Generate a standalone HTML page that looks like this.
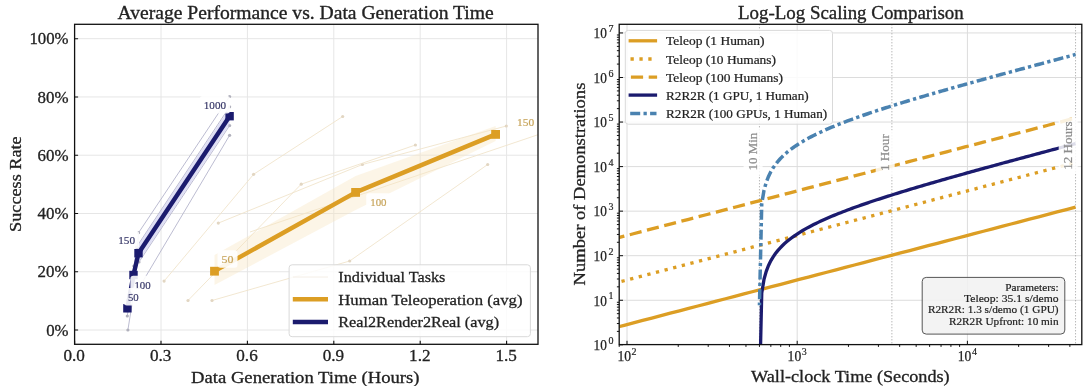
<!DOCTYPE html>
<html><head><meta charset="utf-8"><style>
html,body{margin:0;padding:0;background:#fff;width:1086px;height:386px;overflow:hidden}
svg{display:block;will-change:transform}
text{font-family:"Liberation Serif",serif}
</style></head><body><svg width="1086" height="386" viewBox="0 0 1086 386" font-family="Liberation Serif, serif"><defs><clipPath id="cl"><rect x="74.6" y="24.3" width="463.4" height="320.0"/></clipPath><clipPath id="cr"><rect x="619.2" y="24.3" width="462.5999999999999" height="320.3"/></clipPath></defs><path d="M161.00 24.3V344.3 M247.40 24.3V344.3 M333.80 24.3V344.3 M420.20 24.3V344.3 M506.60 24.3V344.3 M74.6 330.00H538.0 M74.6 271.74H538.0 M74.6 213.48H538.0 M74.6 155.22H538.0 M74.6 96.96H538.0 M74.6 38.70H538.0" stroke="#e6e6e6" stroke-width="1" fill="none"/><g clip-path="url(#cl)"><path d="M164.1 281.1 L253.6 174.3 L342.7 116.5" stroke="#F1E4CC" stroke-width="0.9" fill="none"/><circle cx="164.1" cy="281.1" r="1.6" fill="#E2D6C2"/><circle cx="253.6" cy="174.3" r="1.6" fill="#E2D6C2"/><circle cx="342.7" cy="116.5" r="1.6" fill="#E2D6C2"/><path d="M218.3 223.1 L362.4 164.5 L506.3 126.0" stroke="#F1E4CC" stroke-width="0.9" fill="none"/><circle cx="218.3" cy="223.1" r="1.6" fill="#E2D6C2"/><circle cx="362.4" cy="164.5" r="1.6" fill="#E2D6C2"/><circle cx="506.3" cy="126.0" r="1.6" fill="#E2D6C2"/><path d="M188.0 300.5 L301.2 184.2 L415.4 145.0" stroke="#F1E4CC" stroke-width="0.9" fill="none"/><circle cx="188.0" cy="300.5" r="1.6" fill="#E2D6C2"/><circle cx="301.2" cy="184.2" r="1.6" fill="#E2D6C2"/><circle cx="415.4" cy="145.0" r="1.6" fill="#E2D6C2"/><path d="M212.0 300.5 L349.7 261.0 L487.7 164.5" stroke="#F1E4CC" stroke-width="0.9" fill="none"/><circle cx="212.0" cy="300.5" r="1.6" fill="#E2D6C2"/><circle cx="349.7" cy="261.0" r="1.6" fill="#E2D6C2"/><circle cx="487.7" cy="164.5" r="1.6" fill="#E2D6C2"/><path d="M250.0 232.0 L700.0 80.0" stroke="#F1E4CC" stroke-width="0.9" fill="none"/><path d="M127.9 330.0 L133.3 296.0 L138.6 232.7 L229.6 96.5" stroke="#B4B4CC" stroke-width="0.9" fill="none"/><circle cx="127.9" cy="330.0" r="1.6" fill="#B0B0BC"/><circle cx="133.3" cy="296.0" r="1.6" fill="#B0B0BC"/><circle cx="138.6" cy="232.7" r="1.6" fill="#B0B0BC"/><circle cx="229.6" cy="96.5" r="1.6" fill="#B0B0BC"/><path d="M127.5 300.0 L133.5 271.0 L136.5 247.0 L229.6 106.8" stroke="#B4B4CC" stroke-width="0.9" fill="none"/><circle cx="127.5" cy="300.0" r="1.6" fill="#B0B0BC"/><circle cx="133.5" cy="271.0" r="1.6" fill="#B0B0BC"/><circle cx="136.5" cy="247.0" r="1.6" fill="#B0B0BC"/><circle cx="229.6" cy="106.8" r="1.6" fill="#B0B0BC"/><path d="M127.0 310.0 L133.0 281.0 L138.3 253.0 L229.6 116.0" stroke="#B4B4CC" stroke-width="0.9" fill="none"/><circle cx="127.0" cy="310.0" r="1.6" fill="#B0B0BC"/><circle cx="133.0" cy="281.0" r="1.6" fill="#B0B0BC"/><circle cx="138.3" cy="253.0" r="1.6" fill="#B0B0BC"/><circle cx="229.6" cy="116.0" r="1.6" fill="#B0B0BC"/><path d="M127.3 316.0 L133.8 266.0 L139.0 262.0 L229.6 125.6" stroke="#B4B4CC" stroke-width="0.9" fill="none"/><circle cx="127.3" cy="316.0" r="1.6" fill="#B0B0BC"/><circle cx="133.8" cy="266.0" r="1.6" fill="#B0B0BC"/><circle cx="139.0" cy="262.0" r="1.6" fill="#B0B0BC"/><circle cx="229.6" cy="125.6" r="1.6" fill="#B0B0BC"/><path d="M127.6 311.0 L133.2 285.0 L139.5 287.0 L229.6 135.3" stroke="#B4B4CC" stroke-width="0.9" fill="none"/><circle cx="127.6" cy="311.0" r="1.6" fill="#B0B0BC"/><circle cx="133.2" cy="285.0" r="1.6" fill="#B0B0BC"/><circle cx="139.5" cy="287.0" r="1.6" fill="#B0B0BC"/><circle cx="229.6" cy="135.3" r="1.6" fill="#B0B0BC"/></g><path d="M214.5 255 L355.6 176 L495.6 126 L495.6 141 L355.6 210 L214.5 285Z" fill="#F8E4C0" fill-opacity="0.38"/><path d="M127.4 301 L133.5 268.5 L138.5 244.5 L229.6 108 L229.6 124.5 L138.5 262 L133.5 281.5 L127.4 315Z" fill="#C9C9EE" fill-opacity="0.6"/><path d="M214.5 271.2 L355.6 192.4 L495.6 134.4" stroke="#DC9E24" stroke-width="4.4" fill="none" stroke-linejoin="round"/><rect x="210.1" y="266.8" width="8.8" height="8.8" fill="#DC9E24"/><rect x="351.20000000000005" y="188.0" width="8.8" height="8.8" fill="#DC9E24"/><rect x="491.20000000000005" y="130.0" width="8.8" height="8.8" fill="#DC9E24"/><path d="M127.4 308.3 L133.5 275.0 L138.5 253.2 L229.6 116.2" stroke="#1B1B6E" stroke-width="4.4" fill="none" stroke-linejoin="round"/><rect x="123.2" y="304.1" width="8.4" height="8.4" fill="#1B1B6E"/><rect x="129.3" y="270.8" width="8.4" height="8.4" fill="#1B1B6E"/><rect x="134.3" y="249.0" width="8.4" height="8.4" fill="#1B1B6E"/><rect x="225.4" y="112.0" width="8.4" height="8.4" fill="#1B1B6E"/><rect x="199.8" y="96.0" width="30.2" height="17.5" rx="3" fill="#fff" fill-opacity="0.9"/><text x="203.80" y="109.00" font-size="10.5" fill="#3A3A6A" stroke="#3A3A6A" stroke-width="0.19" textLength="22.20" lengthAdjust="spacingAndGlyphs" >1000</text><rect x="114.2" y="231.0" width="24.9" height="17.5" rx="3" fill="#fff" fill-opacity="0.9"/><text x="118.20" y="244.00" font-size="10.5" fill="#3A3A6A" stroke="#3A3A6A" stroke-width="0.19" textLength="16.90" lengthAdjust="spacingAndGlyphs" >150</text><rect x="130.4" y="275.8" width="24.3" height="17.5" rx="3" fill="#fff" fill-opacity="0.9"/><text x="134.40" y="288.80" font-size="10.5" fill="#3A3A6A" stroke="#3A3A6A" stroke-width="0.19" textLength="16.30" lengthAdjust="spacingAndGlyphs" >100</text><rect x="123.9" y="288.0" width="18.8" height="17.5" rx="3" fill="#fff" fill-opacity="0.9"/><text x="127.90" y="301.00" font-size="10.5" fill="#3A3A6A" stroke="#3A3A6A" stroke-width="0.19" textLength="10.80" lengthAdjust="spacingAndGlyphs" >50</text><rect x="217.5" y="250.2" width="20.0" height="17.5" rx="3" fill="#fff" fill-opacity="0.9"/><text x="221.50" y="263.20" font-size="10.5" fill="#C8A65E" stroke="#C8A65E" stroke-width="0.19" textLength="12.00" lengthAdjust="spacingAndGlyphs" >50</text><rect x="366.2" y="193.2" width="24.4" height="17.5" rx="3" fill="#fff" fill-opacity="0.9"/><text x="370.20" y="206.20" font-size="10.5" fill="#C8A65E" stroke="#C8A65E" stroke-width="0.19" textLength="16.40" lengthAdjust="spacingAndGlyphs" >100</text><rect x="513.0" y="113.3" width="25.2" height="17.5" rx="3" fill="#fff" fill-opacity="0.9"/><text x="517.00" y="126.30" font-size="10.5" fill="#C8A65E" stroke="#C8A65E" stroke-width="0.19" textLength="17.20" lengthAdjust="spacingAndGlyphs" >150</text><rect x="289.1" y="264.8" width="241.3" height="71.9" rx="3" fill="#fff" fill-opacity="0.85" stroke="#d9d9d9" stroke-width="1"/><path d="M292.8 299.2H328" stroke="#DC9E24" stroke-width="4.5"/><path d="M292.8 321.9H328" stroke="#1B1B6E" stroke-width="4.5"/><path d="M292.8 277H328" stroke="#F4EEE6" stroke-width="1"/><text x="338.30" y="282.30" font-size="15.5" fill="#222" stroke="#222" stroke-width="0.28" textLength="107.11" lengthAdjust="spacingAndGlyphs" >Individual Tasks</text><text x="338.30" y="304.70" font-size="15.5" fill="#222" stroke="#222" stroke-width="0.28" textLength="184.18" lengthAdjust="spacingAndGlyphs" >Human Teleoperation (avg)</text><text x="338.30" y="326.80" font-size="15.5" fill="#222" stroke="#222" stroke-width="0.28" textLength="160.76" lengthAdjust="spacingAndGlyphs" >Real2Render2Real (avg)</text><rect x="74.6" y="24.3" width="463.4" height="320.0" fill="none" stroke="#111" stroke-width="1.3"/><path d="M74.60 344.3v-3.5 M161.00 344.3v-3.5 M247.40 344.3v-3.5 M333.80 344.3v-3.5 M420.20 344.3v-3.5 M506.60 344.3v-3.5 M74.6 330.00h3.5 M74.6 271.74h3.5 M74.6 213.48h3.5 M74.6 155.22h3.5 M74.6 96.96h3.5 M74.6 38.70h3.5" stroke="#111" stroke-width="1.1"/><text x="63.50" y="361.30" font-size="16" fill="#222" stroke="#222" stroke-width="0.29" textLength="21.40" lengthAdjust="spacingAndGlyphs" >0.0</text><text x="149.90" y="361.30" font-size="16" fill="#222" stroke="#222" stroke-width="0.29" textLength="21.40" lengthAdjust="spacingAndGlyphs" >0.3</text><text x="236.30" y="361.30" font-size="16" fill="#222" stroke="#222" stroke-width="0.29" textLength="21.40" lengthAdjust="spacingAndGlyphs" >0.6</text><text x="322.70" y="361.30" font-size="16" fill="#222" stroke="#222" stroke-width="0.29" textLength="21.40" lengthAdjust="spacingAndGlyphs" >0.9</text><text x="409.10" y="361.30" font-size="16" fill="#222" stroke="#222" stroke-width="0.29" textLength="21.40" lengthAdjust="spacingAndGlyphs" >1.2</text><text x="495.50" y="361.30" font-size="16" fill="#222" stroke="#222" stroke-width="0.29" textLength="21.40" lengthAdjust="spacingAndGlyphs" >1.5</text><text x="46.20" y="335.60" font-size="16" fill="#222" stroke="#222" stroke-width="0.29" textLength="22.37" lengthAdjust="spacingAndGlyphs" >0%</text><text x="37.60" y="277.34" font-size="16" fill="#222" stroke="#222" stroke-width="0.29" textLength="30.97" lengthAdjust="spacingAndGlyphs" >20%</text><text x="37.60" y="219.08" font-size="16" fill="#222" stroke="#222" stroke-width="0.29" textLength="30.97" lengthAdjust="spacingAndGlyphs" >40%</text><text x="37.60" y="160.82" font-size="16" fill="#222" stroke="#222" stroke-width="0.29" textLength="30.97" lengthAdjust="spacingAndGlyphs" >60%</text><text x="37.60" y="102.56" font-size="16" fill="#222" stroke="#222" stroke-width="0.29" textLength="30.97" lengthAdjust="spacingAndGlyphs" >80%</text><text x="29.40" y="44.30" font-size="16" fill="#222" stroke="#222" stroke-width="0.29" textLength="39.17" lengthAdjust="spacingAndGlyphs" >100%</text><text x="117.50" y="18.80" font-size="18.5" fill="#222" stroke="#222" stroke-width="0.33" textLength="376.24" lengthAdjust="spacingAndGlyphs" >Average Performance vs. Data Generation Time</text><text x="191.00" y="382.70" font-size="16" fill="#222" stroke="#222" stroke-width="0.29" textLength="228.55" lengthAdjust="spacingAndGlyphs" >Data Generation Time (Hours)</text><text transform="translate(20.90,231.90) rotate(-90)" x="0" y="0" font-size="16" fill="#222" stroke="#222" stroke-width="0.29" textLength="95.57" lengthAdjust="spacingAndGlyphs" >Success Rate</text><path d="M627.00 24.3V344.6 M797.20 24.3V344.6 M967.40 24.3V344.6 M619.2 300.25H1081.8 M619.2 255.70H1081.8 M619.2 211.15H1081.8 M619.2 166.60H1081.8 M619.2 122.05H1081.8 M619.2 77.50H1081.8 M619.2 32.95H1081.8" stroke="#dcdcdc" stroke-width="1" fill="none"/><path d="M759.44 24.3V344.6" stroke="#9a9a9a" stroke-width="1" stroke-dasharray="1 2" fill="none"/><path d="M891.88 24.3V344.6" stroke="#9a9a9a" stroke-width="1" stroke-dasharray="1 2" fill="none"/><path d="M1075.56 24.3V344.6" stroke="#9a9a9a" stroke-width="1" stroke-dasharray="1 2" fill="none"/><g clip-path="url(#cr)"><path d="M614.99 327.69 L624.20 325.28 L633.41 322.87 L642.62 320.45 L651.83 318.04 L661.04 315.63 L670.26 313.22 L679.47 310.81 L688.68 308.40 L697.89 305.99 L707.10 303.58 L716.31 301.17 L725.52 298.75 L734.74 296.34 L743.95 293.93 L753.16 291.52 L762.37 289.11 L771.58 286.70 L780.79 284.29 L790.00 281.88 L799.22 279.47 L808.43 277.05 L817.64 274.64 L826.85 272.23 L836.06 269.82 L845.27 267.41 L854.48 265.00 L863.70 262.59 L872.91 260.18 L882.12 257.77 L891.33 255.35 L900.54 252.94 L909.75 250.53 L918.96 248.12 L928.18 245.71 L937.39 243.30 L946.60 240.89 L955.81 238.48 L965.02 236.07 L974.23 233.65 L983.44 231.24 L992.66 228.83 L1001.87 226.42 L1011.08 224.01 L1020.29 221.60 L1029.50 219.19 L1038.71 216.78 L1047.92 214.37 L1057.14 211.95 L1066.35 209.54 L1075.56 207.13" stroke="#DC9E24" stroke-width="3.3" fill="none"/><path d="M614.99 283.14 L624.20 280.73 L633.41 278.32 L642.62 275.90 L651.83 273.49 L661.04 271.08 L670.26 268.67 L679.47 266.26 L688.68 263.85 L697.89 261.44 L707.10 259.03 L716.31 256.62 L725.52 254.20 L734.74 251.79 L743.95 249.38 L753.16 246.97 L762.37 244.56 L771.58 242.15 L780.79 239.74 L790.00 237.33 L799.22 234.92 L808.43 232.50 L817.64 230.09 L826.85 227.68 L836.06 225.27 L845.27 222.86 L854.48 220.45 L863.70 218.04 L872.91 215.63 L882.12 213.22 L891.33 210.80 L900.54 208.39 L909.75 205.98 L918.96 203.57 L928.18 201.16 L937.39 198.75 L946.60 196.34 L955.81 193.93 L965.02 191.52 L974.23 189.10 L983.44 186.69 L992.66 184.28 L1001.87 181.87 L1011.08 179.46 L1020.29 177.05 L1029.50 174.64 L1038.71 172.23 L1047.92 169.82 L1057.14 167.40 L1066.35 164.99 L1075.56 162.58" stroke="#DC9E24" stroke-width="3.3" fill="none" stroke-dasharray="3.3 5.6" stroke-dashoffset="2.18"/><path d="M614.99 238.59 L624.20 236.18 L633.41 233.77 L642.62 231.35 L651.83 228.94 L661.04 226.53 L670.26 224.12 L679.47 221.71 L688.68 219.30 L697.89 216.89 L707.10 214.48 L716.31 212.07 L725.52 209.65 L734.74 207.24 L743.95 204.83 L753.16 202.42 L762.37 200.01 L771.58 197.60 L780.79 195.19 L790.00 192.78 L799.22 190.37 L808.43 187.95 L817.64 185.54 L826.85 183.13 L836.06 180.72 L845.27 178.31 L854.48 175.90 L863.70 173.49 L872.91 171.08 L882.12 168.67 L891.33 166.25 L900.54 163.84 L909.75 161.43 L918.96 159.02 L928.18 156.61 L937.39 154.20 L946.60 151.79 L955.81 149.38 L965.02 146.97 L974.23 144.55 L983.44 142.14 L992.66 139.73 L1001.87 137.32 L1011.08 134.91 L1020.29 132.50 L1029.50 130.09 L1038.71 127.68 L1047.92 125.27 L1057.14 122.85 L1066.35 120.44 L1075.56 118.03" stroke="#DC9E24" stroke-width="3.3" fill="none" stroke-dasharray="12.2 5.6" stroke-dashoffset="2.54"/><path d="M759.45 394.43 L761.75 292.91 L764.00 279.40 L766.26 271.32 L768.52 265.49 L770.77 260.89 L773.03 257.08 L775.29 253.80 L777.54 250.91 L779.80 248.33 L782.06 245.99 L784.31 243.84 L786.57 241.85 L788.83 239.98 L791.08 238.24 L793.34 236.59 L795.60 235.02 L797.85 233.53 L800.11 232.10 L802.36 230.74 L804.62 229.42 L806.88 228.15 L809.13 226.93 L811.39 225.74 L813.65 224.58 L815.90 223.46 L818.16 222.37 L820.42 221.31 L822.67 220.27 L824.93 219.25 L827.19 218.26 L829.44 217.28 L831.70 216.33 L833.96 215.39 L836.21 214.47 L838.47 213.56 L840.73 212.67 L842.98 211.79 L845.24 210.92 L847.50 210.07 L849.75 209.22 L852.01 208.39 L854.27 207.57 L856.52 206.76 L858.78 205.95 L861.04 205.16 L863.29 204.37 L865.55 203.59 L867.81 202.82 L870.06 202.06 L872.32 201.30 L874.58 200.55 L876.83 199.80 L879.09 199.06 L881.35 198.33 L883.60 197.60 L885.86 196.88 L888.12 196.16 L890.37 195.45 L892.63 194.74 L894.89 194.03 L897.14 193.33 L899.40 192.63 L901.66 191.94 L903.91 191.25 L906.17 190.56 L908.43 189.88 L910.68 189.20 L912.94 188.52 L915.20 187.85 L917.45 187.18 L919.71 186.51 L921.97 185.84 L924.22 185.18 L926.48 184.52 L928.74 183.86 L930.99 183.21 L933.25 182.55 L935.51 181.90 L937.76 181.25 L940.02 180.60 L942.28 179.96 L944.53 179.31 L946.79 178.67 L949.05 178.03 L951.30 177.39 L953.56 176.75 L955.82 176.12 L958.07 175.48 L960.33 174.85 L962.59 174.22 L964.84 173.59 L967.10 172.96 L969.36 172.33 L971.61 171.70 L973.87 171.08 L976.13 170.45 L978.38 169.83 L980.64 169.21 L982.89 168.59 L985.15 167.96 L987.41 167.35 L989.66 166.73 L991.92 166.11 L994.18 165.49 L996.43 164.88 L998.69 164.26 L1000.95 163.65 L1003.20 163.03 L1005.46 162.42 L1007.72 161.81 L1009.97 161.20 L1012.23 160.59 L1014.49 159.97 L1016.74 159.37 L1019.00 158.76 L1021.26 158.15 L1023.51 157.54 L1025.77 156.93 L1028.03 156.32 L1030.28 155.72 L1032.54 155.11 L1034.80 154.51 L1037.05 153.90 L1039.31 153.30 L1041.57 152.69 L1043.82 152.09 L1046.08 151.49 L1048.34 150.88 L1050.59 150.28 L1052.85 149.68 L1055.11 149.08 L1057.36 148.47 L1059.62 147.87 L1061.88 147.27 L1064.13 146.67 L1066.39 146.07 L1068.65 145.47 L1070.90 144.87 L1073.16 144.27 L1075.42 143.67 L1075.56 143.64" stroke="#1B1B6E" stroke-width="3.3" fill="none"/><path d="M759.45 305.33 L761.75 203.81 L764.00 190.30 L766.26 182.22 L768.52 176.39 L770.77 171.79 L773.03 167.98 L775.29 164.70 L777.54 161.81 L779.80 159.23 L782.06 156.89 L784.31 154.74 L786.57 152.75 L788.83 150.88 L791.08 149.14 L793.34 147.49 L795.60 145.92 L797.85 144.43 L800.11 143.00 L802.36 141.64 L804.62 140.32 L806.88 139.05 L809.13 137.83 L811.39 136.64 L813.65 135.48 L815.90 134.36 L818.16 133.27 L820.42 132.21 L822.67 131.17 L824.93 130.15 L827.19 129.16 L829.44 128.18 L831.70 127.23 L833.96 126.29 L836.21 125.37 L838.47 124.46 L840.73 123.57 L842.98 122.69 L845.24 121.82 L847.50 120.97 L849.75 120.12 L852.01 119.29 L854.27 118.47 L856.52 117.66 L858.78 116.85 L861.04 116.06 L863.29 115.27 L865.55 114.49 L867.81 113.72 L870.06 112.96 L872.32 112.20 L874.58 111.45 L876.83 110.70 L879.09 109.96 L881.35 109.23 L883.60 108.50 L885.86 107.78 L888.12 107.06 L890.37 106.35 L892.63 105.64 L894.89 104.93 L897.14 104.23 L899.40 103.53 L901.66 102.84 L903.91 102.15 L906.17 101.46 L908.43 100.78 L910.68 100.10 L912.94 99.42 L915.20 98.75 L917.45 98.08 L919.71 97.41 L921.97 96.74 L924.22 96.08 L926.48 95.42 L928.74 94.76 L930.99 94.11 L933.25 93.45 L935.51 92.80 L937.76 92.15 L940.02 91.50 L942.28 90.86 L944.53 90.21 L946.79 89.57 L949.05 88.93 L951.30 88.29 L953.56 87.65 L955.82 87.02 L958.07 86.38 L960.33 85.75 L962.59 85.12 L964.84 84.49 L967.10 83.86 L969.36 83.23 L971.61 82.60 L973.87 81.98 L976.13 81.35 L978.38 80.73 L980.64 80.11 L982.89 79.49 L985.15 78.86 L987.41 78.25 L989.66 77.63 L991.92 77.01 L994.18 76.39 L996.43 75.78 L998.69 75.16 L1000.95 74.55 L1003.20 73.93 L1005.46 73.32 L1007.72 72.71 L1009.97 72.10 L1012.23 71.49 L1014.49 70.87 L1016.74 70.27 L1019.00 69.66 L1021.26 69.05 L1023.51 68.44 L1025.77 67.83 L1028.03 67.22 L1030.28 66.62 L1032.54 66.01 L1034.80 65.41 L1037.05 64.80 L1039.31 64.20 L1041.57 63.59 L1043.82 62.99 L1046.08 62.39 L1048.34 61.78 L1050.59 61.18 L1052.85 60.58 L1055.11 59.98 L1057.36 59.37 L1059.62 58.77 L1061.88 58.17 L1064.13 57.57 L1066.39 56.97 L1068.65 56.37 L1070.90 55.77 L1073.16 55.17 L1075.42 54.57 L1075.56 54.54" stroke="#4A82B0" stroke-width="3.5" fill="none" stroke-dasharray="10 3.3 3.3 3.3" stroke-dashoffset="-6"/></g><rect x="743.6" y="128.8" width="19" height="46.2" rx="3" fill="#fff" fill-opacity="0.85"/><text transform="translate(757.10,170.50) rotate(-90)" x="0" y="0" font-size="12" fill="#8c8c8c" stroke="#8c8c8c" stroke-width="0.22" textLength="37.73" lengthAdjust="spacingAndGlyphs" >10 Min</text><rect x="875.7" y="130.2" width="19" height="45.3" rx="3" fill="#fff" fill-opacity="0.85"/><text transform="translate(889.20,171.00) rotate(-90)" x="0" y="0" font-size="12" fill="#8c8c8c" stroke="#8c8c8c" stroke-width="0.22" textLength="36.80" lengthAdjust="spacingAndGlyphs" >1 Hour</text><rect x="1058.7" y="117.5" width="19" height="56.8" rx="3" fill="#fff" fill-opacity="0.85"/><text transform="translate(1072.20,169.80) rotate(-90)" x="0" y="0" font-size="12" fill="#8c8c8c" stroke="#8c8c8c" stroke-width="0.22" textLength="48.29" lengthAdjust="spacingAndGlyphs" >12 Hours</text><rect x="625.3" y="30.4" width="207.2" height="93.8" rx="3" fill="#fff" fill-opacity="0.85" stroke="#d9d9d9" stroke-width="1"/><path d="M628.6 40.8H657.1" stroke="#DC9E24" stroke-width="3.3"/><path d="M628.6 59.0H657.1" stroke="#DC9E24" stroke-width="3.3" stroke-dasharray="3.3 5.6" stroke-dashoffset="-1.9"/><path d="M628.6 77.2H657.1" stroke="#DC9E24" stroke-width="3.3" stroke-dasharray="12.2 5.6" stroke-dashoffset="15.5"/><path d="M628.6 95.1H657.1" stroke="#1B1B6E" stroke-width="3.3"/><path d="M628.6 113.4H656.5" stroke="#4A82B0" stroke-width="3.5" stroke-dasharray="10 3.3 3.3 3.3" stroke-dashoffset="18.3"/><text x="666.10" y="45.30" font-size="13" fill="#222" stroke="#222" stroke-width="0.23" textLength="98.42" lengthAdjust="spacingAndGlyphs" >Teleop (1 Human)</text><text x="666.10" y="63.50" font-size="13" fill="#222" stroke="#222" stroke-width="0.23" textLength="109.91" lengthAdjust="spacingAndGlyphs" >Teleop (10 Humans)</text><text x="666.10" y="81.70" font-size="13" fill="#222" stroke="#222" stroke-width="0.23" textLength="116.91" lengthAdjust="spacingAndGlyphs" >Teleop (100 Humans)</text><text x="666.10" y="99.60" font-size="13" fill="#222" stroke="#222" stroke-width="0.23" textLength="142.52" lengthAdjust="spacingAndGlyphs" >R2R2R (1 GPU, 1 Human)</text><text x="666.10" y="117.90" font-size="13" fill="#222" stroke="#222" stroke-width="0.23" textLength="161.01" lengthAdjust="spacingAndGlyphs" >R2R2R (100 GPUs, 1 Human)</text><rect x="922.2" y="277.4" width="142.6" height="56.7" rx="4" fill="#f2f2f2" fill-opacity="0.9" stroke="#555" stroke-width="1"/><text x="1005.20" y="291.00" font-size="10.5" fill="#222" stroke="#222" stroke-width="0.19" textLength="53.40" lengthAdjust="spacingAndGlyphs" >Parameters:</text><text x="964.00" y="302.20" font-size="10.5" fill="#222" stroke="#222" stroke-width="0.19" textLength="94.58" lengthAdjust="spacingAndGlyphs" >Teleop: 35.1 s/demo</text><text x="927.90" y="313.40" font-size="10.5" fill="#222" stroke="#222" stroke-width="0.19" textLength="130.69" lengthAdjust="spacingAndGlyphs" >R2R2R: 1.3 s/demo (1 GPU)</text><text x="948.90" y="324.80" font-size="10.5" fill="#222" stroke="#222" stroke-width="0.19" textLength="109.71" lengthAdjust="spacingAndGlyphs" >R2R2R Upfront: 10 min</text><rect x="619.2" y="24.3" width="462.5999999999999" height="320.3" fill="none" stroke="#111" stroke-width="1.3"/><path d="M619.2 344.80h3.8 M619.2 331.39h-2.3 M619.2 323.54h-2.3 M619.2 317.98h-2.3 M619.2 313.66h-2.3 M619.2 310.13h-2.3 M619.2 307.15h-2.3 M619.2 304.57h-2.3 M619.2 302.29h-2.3 M619.2 300.25h3.8 M619.2 286.84h-2.3 M619.2 278.99h-2.3 M619.2 273.43h-2.3 M619.2 269.11h-2.3 M619.2 265.58h-2.3 M619.2 262.60h-2.3 M619.2 260.02h-2.3 M619.2 257.74h-2.3 M619.2 255.70h3.8 M619.2 242.29h-2.3 M619.2 234.44h-2.3 M619.2 228.88h-2.3 M619.2 224.56h-2.3 M619.2 221.03h-2.3 M619.2 218.05h-2.3 M619.2 215.47h-2.3 M619.2 213.19h-2.3 M619.2 211.15h3.8 M619.2 197.74h-2.3 M619.2 189.89h-2.3 M619.2 184.33h-2.3 M619.2 180.01h-2.3 M619.2 176.48h-2.3 M619.2 173.50h-2.3 M619.2 170.92h-2.3 M619.2 168.64h-2.3 M619.2 166.60h3.8 M619.2 153.19h-2.3 M619.2 145.34h-2.3 M619.2 139.78h-2.3 M619.2 135.46h-2.3 M619.2 131.93h-2.3 M619.2 128.95h-2.3 M619.2 126.37h-2.3 M619.2 124.09h-2.3 M619.2 122.05h3.8 M619.2 108.64h-2.3 M619.2 100.79h-2.3 M619.2 95.23h-2.3 M619.2 90.91h-2.3 M619.2 87.38h-2.3 M619.2 84.40h-2.3 M619.2 81.82h-2.3 M619.2 79.54h-2.3 M619.2 77.50h3.8 M619.2 64.09h-2.3 M619.2 56.24h-2.3 M619.2 50.68h-2.3 M619.2 46.36h-2.3 M619.2 42.83h-2.3 M619.2 39.85h-2.3 M619.2 37.27h-2.3 M619.2 34.99h-2.3 M619.2 32.95h3.8 M627.00 344.6v-3.8 M797.20 344.6v-3.8 M967.40 344.6v-3.8 M619.21 344.6v2.3 M678.24 344.6v2.3 M708.21 344.6v2.3 M729.47 344.6v2.3 M745.96 344.6v2.3 M759.44 344.6v2.3 M770.84 344.6v2.3 M780.71 344.6v2.3 M789.41 344.6v2.3 M848.44 344.6v2.3 M878.41 344.6v2.3 M899.67 344.6v2.3 M916.16 344.6v2.3 M929.64 344.6v2.3 M941.04 344.6v2.3 M950.91 344.6v2.3 M959.61 344.6v2.3 M1018.64 344.6v2.3 M1048.61 344.6v2.3 M1069.87 344.6v2.3" stroke="#111" stroke-width="1"/><text x="593.60" y="350.10" font-size="14" fill="#222" stroke="#222" stroke-width="0.25" textLength="13.30" lengthAdjust="spacingAndGlyphs" >10</text><text x="608.60" y="344.00" font-size="10" fill="#222" stroke="#222" stroke-width="0.18" textLength="5.00" lengthAdjust="spacingAndGlyphs" >0</text><text x="593.60" y="305.55" font-size="14" fill="#222" stroke="#222" stroke-width="0.25" textLength="13.30" lengthAdjust="spacingAndGlyphs" >10</text><text x="608.60" y="299.45" font-size="10" fill="#222" stroke="#222" stroke-width="0.18" textLength="5.00" lengthAdjust="spacingAndGlyphs" >1</text><text x="593.60" y="261.00" font-size="14" fill="#222" stroke="#222" stroke-width="0.25" textLength="13.30" lengthAdjust="spacingAndGlyphs" >10</text><text x="608.60" y="254.90" font-size="10" fill="#222" stroke="#222" stroke-width="0.18" textLength="5.00" lengthAdjust="spacingAndGlyphs" >2</text><text x="593.60" y="216.45" font-size="14" fill="#222" stroke="#222" stroke-width="0.25" textLength="13.30" lengthAdjust="spacingAndGlyphs" >10</text><text x="608.60" y="210.35" font-size="10" fill="#222" stroke="#222" stroke-width="0.18" textLength="5.00" lengthAdjust="spacingAndGlyphs" >3</text><text x="593.60" y="171.90" font-size="14" fill="#222" stroke="#222" stroke-width="0.25" textLength="13.30" lengthAdjust="spacingAndGlyphs" >10</text><text x="608.60" y="165.80" font-size="10" fill="#222" stroke="#222" stroke-width="0.18" textLength="5.00" lengthAdjust="spacingAndGlyphs" >4</text><text x="593.60" y="127.35" font-size="14" fill="#222" stroke="#222" stroke-width="0.25" textLength="13.30" lengthAdjust="spacingAndGlyphs" >10</text><text x="608.60" y="121.25" font-size="10" fill="#222" stroke="#222" stroke-width="0.18" textLength="5.00" lengthAdjust="spacingAndGlyphs" >5</text><text x="593.60" y="82.80" font-size="14" fill="#222" stroke="#222" stroke-width="0.25" textLength="13.30" lengthAdjust="spacingAndGlyphs" >10</text><text x="608.60" y="76.70" font-size="10" fill="#222" stroke="#222" stroke-width="0.18" textLength="5.00" lengthAdjust="spacingAndGlyphs" >6</text><text x="593.60" y="38.25" font-size="14" fill="#222" stroke="#222" stroke-width="0.25" textLength="13.30" lengthAdjust="spacingAndGlyphs" >10</text><text x="608.60" y="32.15" font-size="10" fill="#222" stroke="#222" stroke-width="0.18" textLength="5.00" lengthAdjust="spacingAndGlyphs" >7</text><text x="617.40" y="361.30" font-size="14" fill="#222" stroke="#222" stroke-width="0.25" textLength="13.60" lengthAdjust="spacingAndGlyphs" >10</text><text x="631.60" y="355.40" font-size="10" fill="#222" stroke="#222" stroke-width="0.18" textLength="5.00" lengthAdjust="spacingAndGlyphs" >2</text><text x="787.60" y="361.30" font-size="14" fill="#222" stroke="#222" stroke-width="0.25" textLength="13.60" lengthAdjust="spacingAndGlyphs" >10</text><text x="801.80" y="355.40" font-size="10" fill="#222" stroke="#222" stroke-width="0.18" textLength="5.00" lengthAdjust="spacingAndGlyphs" >3</text><text x="957.80" y="361.30" font-size="14" fill="#222" stroke="#222" stroke-width="0.25" textLength="13.60" lengthAdjust="spacingAndGlyphs" >10</text><text x="972.00" y="355.40" font-size="10" fill="#222" stroke="#222" stroke-width="0.18" textLength="5.00" lengthAdjust="spacingAndGlyphs" >4</text><text x="738.00" y="19.20" font-size="18.5" fill="#222" stroke="#222" stroke-width="0.33" textLength="225.66" lengthAdjust="spacingAndGlyphs" >Log-Log Scaling Comparison</text><text x="751.10" y="382.40" font-size="16" fill="#222" stroke="#222" stroke-width="0.29" textLength="198.56" lengthAdjust="spacingAndGlyphs" >Wall-clock Time (Seconds)</text><text transform="translate(584.60,285.40) rotate(-90)" x="0" y="0" font-size="16" fill="#222" stroke="#222" stroke-width="0.29" textLength="202.74" lengthAdjust="spacingAndGlyphs" >Number of Demonstrations</text></svg></body></html>
